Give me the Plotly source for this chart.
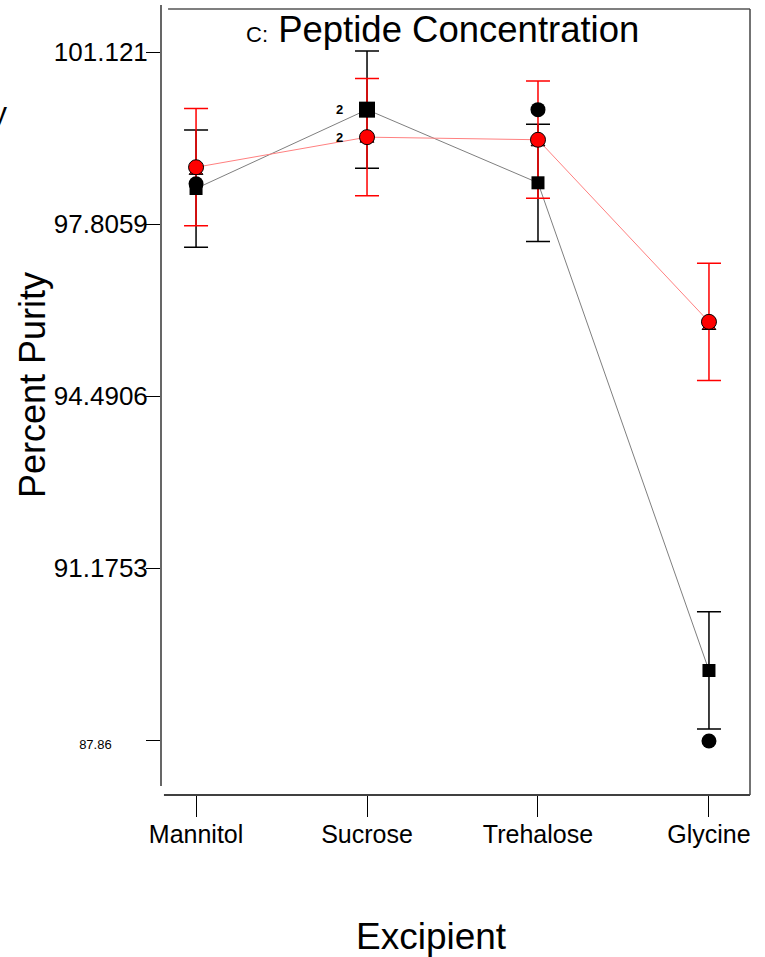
import plotly.graph_objects as go

# ---------------- data ----------------
categories = ["Mannitol", "Sucrose", "Trehalose", "Glycine"]

black_mean = [98.49, 100.01, 98.60, 89.20]
black_err = [1.13, 1.13, 1.13, 1.13]
red_mean = [98.90, 99.48, 99.43, 95.92]
red_err = [1.13, 1.13, 1.13, 1.13]

black_points = [98.58, 100.01, 100.01, 87.84]
red_points = [98.82, 99.44, 99.37, 95.83]

tick_vals = [87.86, 91.1753, 94.4906, 97.8059, 101.121]
tick_labels = ["87.86", "91.1753", "94.4906", "97.8059", "101.121"]

count_label = "2"
title_small = "C:"
title_big = "Peptide Concentration"
x_title = "Excipient"
y_title = "Percent Purity"

FONT = "Liberation Sans, Arial, sans-serif"

fig = go.Figure()

# error bars + connecting lines
fig.add_trace(go.Scatter(
    x=categories, y=black_mean, mode="lines",
    line=dict(color="#7f7f7f", width=1),
    error_y=dict(type="data", array=black_err, color="black", thickness=1.5, width=12),
    hoverinfo="skip", showlegend=False))
fig.add_trace(go.Scatter(
    x=categories, y=red_mean, mode="lines",
    line=dict(color="#ff8080", width=1),
    error_y=dict(type="data", array=red_err, color="red", thickness=1.5, width=12),
    hoverinfo="skip", showlegend=False))

# design points
fig.add_trace(go.Scatter(
    x=categories, y=red_points, mode="markers",
    marker=dict(symbol="triangle-up", size=12, color="red", opacity=1,
                line=dict(color="black", width=1)),
    showlegend=False))
fig.add_trace(go.Scatter(
    x=categories, y=black_points, mode="markers",
    marker=dict(symbol="circle", size=15, color="black", opacity=1, line=dict(color="black", width=0)),
    showlegend=False))

# means
fig.add_trace(go.Scatter(
    x=categories, y=black_mean, mode="markers",
    marker=dict(symbol="square", size=[13, 16, 13, 13], color="black", opacity=1, line=dict(width=0)),
    showlegend=False))
fig.add_trace(go.Scatter(
    x=categories, y=red_mean, mode="markers",
    marker=dict(symbol="circle", size=15, color="red", opacity=1, line=dict(color="black", width=1)),
    showlegend=False))

# count labels "2"
for yv in (black_mean[1], red_mean[1]):
    fig.add_annotation(x=categories[1], y=yv, xref="x", yref="y", text=f"<b>{count_label}</b>",
                       showarrow=False, xshift=-28, font=dict(family=FONT, size=13, color="black"))

# frame lines (detached axes style)
line = dict(color="black", width=1.2)
fig.add_shape(type="line", xref="paper", yref="paper", x0=0, x1=0, y0=0.0115, y1=1.005, line=line)
fig.add_shape(type="line", xref="paper", yref="paper", x0=0.005, x1=1, y0=0, y1=0, line=dict(color="black", width=1.5))
fig.add_shape(type="line", xref="paper", yref="paper", x0=0.012, x1=1, y0=1, y1=1, line=line)
fig.add_shape(type="line", xref="paper", yref="paper", x0=1, x1=1, y0=0, y1=1, line=dict(color="#444", width=1.5))

ticktext = [f'<span style="font-size:13px">{tick_labels[0]}' + "\u00a0" * 10 + "</span>"] + tick_labels[1:]

# title
fig.add_annotation(xref="paper", yref="paper", x=(442 - 161) / 589, y=(795 - 30) / 786,
                   text=f'<span style="font-size:22px">{title_small}</span> {title_big}',
                   showarrow=False, xanchor="center", yanchor="middle",
                   font=dict(family=FONT, size=36.5, color="black"))
# axis titles
fig.add_annotation(xref="paper", yref="paper", x=(431 - 161) / 589, y=(795 - 937) / 786,
                   text=x_title, showarrow=False, xanchor="center", yanchor="middle",
                   font=dict(family=FONT, size=37, color="black"))
fig.add_annotation(xref="paper", yref="paper", x=(33 - 161) / 589, y=(795 - 385) / 786,
                   text=y_title, showarrow=False, textangle=-90, xanchor="center", yanchor="middle",
                   font=dict(family=FONT, size=36, color="black"))
# cropped glyph at left edge
fig.add_annotation(xref="paper", yref="paper", x=(9 - 161) / 589, y=(795 - 113) / 786,
                   text="y", showarrow=False, xanchor="right", yanchor="middle",
                   font=dict(family=FONT, size=30, color="black"))

fig.update_layout(
    width=765, height=957,
    margin=dict(l=161, r=15, t=9, b=162, autoexpand=False),
    paper_bgcolor="white", plot_bgcolor="white",
    font=dict(family=FONT, color="black"),
    xaxis=dict(
        type="category", range=[-0.205, 3.24], showgrid=False, zeroline=False, showline=False,
        ticks="outside", ticklen=21, tickwidth=1, tickcolor="black",
        tickfont=dict(family=FONT, size=25, color="black"),
        ticklabelstandoff=-4,
    ),
    yaxis=dict(
        range=[86.80, 101.95], showgrid=False, zeroline=False, showline=False,
        tickmode="array", tickvals=tick_vals, ticktext=ticktext,
        ticks="outside", ticklen=14, tickwidth=1, tickcolor="black",
        tickfont=dict(family=FONT, size=26, color="black"),
        ticklabelstandoff=-7,
    ),
)

fig.write_html("out.html")
